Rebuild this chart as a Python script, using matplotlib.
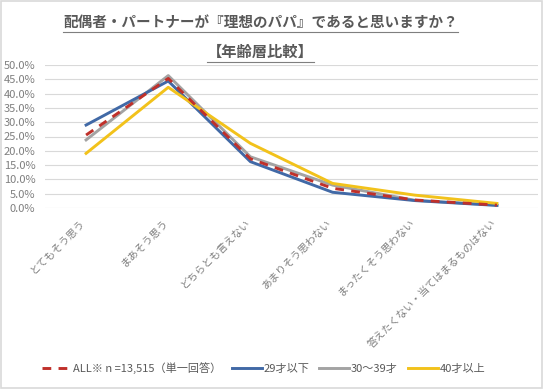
import matplotlib
matplotlib.use("Agg")
import matplotlib.pyplot as plt
from matplotlib.ticker import FuncFormatter
from matplotlib.patches import Rectangle
from matplotlib.transforms import ScaledTranslation

plt.rcParams['font.family'] = ['Noto Sans CJK JP', 'DejaVu Sans']

categories = ["とてもそう思う", "まあそう思う", "どちらとも言えない",
              "あまりそう思わない", "まったくそう思わない", "答えたくない・当てはまるものはない"]
series_names = ["ALL※ n =13,515（単一回答）", "29才以下", "30～39才", "40才以上"]
all_vals = [25.5, 45.3, 17.2, 6.9, 2.8, 1.0]
under29 = [29.0, 44.4, 16.2, 5.5, 2.6, 0.9]
age30s = [23.8, 46.3, 17.9, 8.0, 2.7, 1.0]
over40 = [19.1, 42.2, 22.6, 8.6, 4.5, 1.6]

fig = plt.figure(figsize=(5.43, 3.89), dpi=100)
ax = fig.add_axes([45/543, 1-208/389, 493/543, 143/389])

x = list(range(len(categories)))
ax.plot(x, under29, color='#4169A6', lw=2.1, label=series_names[1], zorder=3)
ax.plot(x, age30s, color='#A3A3A3', lw=2.1, label=series_names[2], zorder=2)
ax.plot(x, over40, color='#F2C21B', lw=2.1, label=series_names[3], zorder=4)
ax.plot(x, all_vals, color='#C0302A', lw=2.1, ls=(0, (3, 2.5)), label=series_names[0], zorder=5)

ax.set_xlim(-0.5, 5.5)
ax.set_ylim(0, 50)
ax.set_yticks([i * 5 for i in range(11)])
ax.yaxis.set_major_formatter(FuncFormatter(lambda v, p: f"{v:.1f}%"))
ax.grid(axis='y', color='#D9D9D9', lw=0.8)
ax.set_axisbelow(True)
for s in ax.spines.values():
    s.set_visible(False)
ax.tick_params(axis='both', length=0, colors='#7F7F7F', labelsize=8)
ax.tick_params(axis='y', pad=7)
ax.set_xticks(x)
ax.set_xticklabels(categories, rotation=45, ha='right', va='top',
                   rotation_mode='anchor', color='#7F7F7F', fontsize=7.5)
ax.tick_params(axis='x', pad=7)
shift = ScaledTranslation(-6/100, 0, fig.dpi_scale_trans)
for lab in ax.get_xticklabels():
    lab.set_transform(lab.get_transform() + shift)

# legend, order as in reference
h, l = ax.get_legend_handles_labels()
order = [3, 0, 1, 2]
leg = fig.legend([h[i] for i in order], [l[i] for i in order], loc='center',
                 bbox_to_anchor=(0.485, 1-368/389), ncol=4, frameon=False,
                 fontsize=8, handlelength=2.7, columnspacing=0.9, handletextpad=0.15)
for t in leg.get_texts():
    t.set_color('#595959')

t1 = fig.text(0.48, 1-22/389, "配偶者・パートナーが『理想のパパ』であると思いますか？",
              ha='center', va='center', fontsize=10.5, fontweight='bold', color='#595959')
t2 = fig.text(0.48, 1-52/389, "【年齢層比較】", ha='center', va='center',
              fontsize=11, fontweight='bold', color='#595959')

# underline titles
fig.canvas.draw()
r = fig.canvas.get_renderer()
for t in (t1, t2):
    bb = t.get_window_extent(r).transformed(fig.transFigure.inverted())
    fig.add_artist(plt.Line2D([bb.x0, bb.x1], [bb.y0 - 0.004, bb.y0 - 0.004],
                              color='#7F7F7F', lw=0.8, transform=fig.transFigure))

fig.add_artist(Rectangle((0.002, 0.002), 0.996, 0.996, transform=fig.transFigure,
                         fill=False, edgecolor='#D9D9D9', lw=1.2))

fig.savefig("out.png", dpi=100)
